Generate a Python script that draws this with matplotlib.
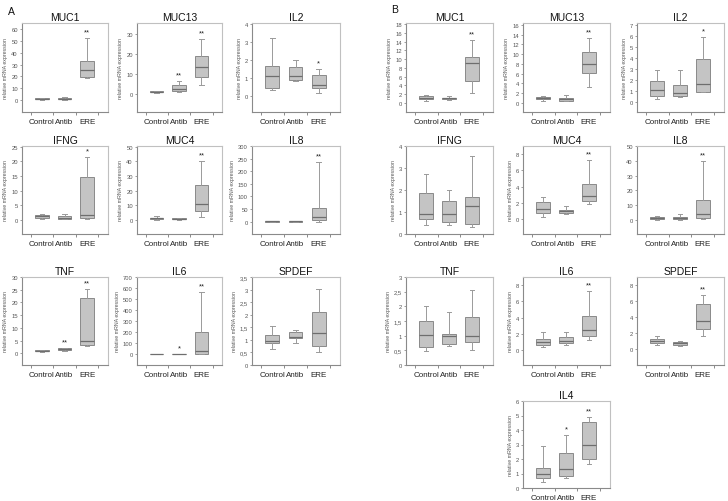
import numpy as np
import matplotlib
matplotlib.use("Agg")
import matplotlib.pyplot as plt
from matplotlib.ticker import FixedLocator

plt.rcParams['font.family'] = ['Liberation Sans', 'DejaVu Sans']

groups = ["Control", "Antib", "ERE"]

# box stats per group: (whislo, q1, med, q3, whishi)
A_MUC1 = [(0.3, 0.6, 1.0, 1.5, 2.0), (0.5, 0.8, 1.2, 1.8, 2.5), (18.7, 19.3, 25.7, 32.7, 52.2)]
A_MUC13 = [(0.5, 0.8, 1.1, 1.4, 1.7), (1.0, 1.7, 2.7, 4.4, 6.7), (4.5, 8.5, 13.6, 19.1, 27.3)]
A_IL2 = [(0.35, 0.46, 1.12, 1.68, 3.23), (0.83, 0.88, 1.12, 1.62, 2.0), (0.18, 0.46, 0.63, 1.18, 1.53)]
A_IFNG = [(0.4, 0.8, 1.2, 1.6, 2.1), (0.2, 0.4, 0.8, 1.5, 1.9), (0.3, 0.7, 1.8, 14.5, 21.6)]
A_MUC4 = [(0.3, 0.8, 1.2, 1.6, 2.5), (0.3, 0.6, 0.9, 1.3, 1.7), (1.8, 5.9, 10.7, 23.9, 40.5)]
A_IL8 = [(0.2, 0.5, 1.0, 2.0, 3.0), (0.2, 0.3, 0.6, 1.0, 1.2), (0.5, 5.0, 17.0, 53.0, 237.0)]
A_TNF = [(0.5, 0.8, 1.0, 1.2, 1.4), (1.1, 1.3, 1.6, 1.9, 2.0), (2.8, 3.4, 5.0, 21.8, 25.4)]
A_IL6 = [(0.5, 0.8, 1.0, 1.2, 1.5), (0.5, 0.8, 1.0, 1.2, 1.5), (1.0, 3.0, 30.0, 202.0, 565.0)]
A_SPDEF = [(0.63, 0.88, 0.97, 1.19, 1.55), (0.87, 1.07, 1.11, 1.31, 1.41), (0.51, 0.77, 1.28, 2.11, 3.04)]

B_MUC1 = [(0.5, 0.8, 1.1, 1.5, 1.8), (0.6, 0.8, 1.0, 1.2, 1.5), (2.3, 4.96, 9.08, 10.45, 14.5)]
B_MUC13 = [(0.5, 0.8, 1.1, 1.3, 1.5), (0.4, 0.5, 0.8, 1.1, 1.7), (3.3, 6.1, 8.0, 10.5, 13.4)]
B_IL2 = [(0.3, 0.57, 1.14, 1.95, 2.93), (0.48, 0.54, 0.84, 1.56, 2.93), (0.9, 0.93, 1.65, 3.89, 5.9)]
B_IFNG = [(0.4, 0.69, 0.89, 1.88, 2.71), (0.4, 0.54, 0.93, 1.52, 2.02), (0.31, 0.46, 1.29, 1.7, 3.54)]
B_MUC4 = [(0.2, 0.78, 1.19, 2.05, 2.67), (0.6, 0.7, 0.94, 1.11, 1.64), (1.8, 2.26, 2.79, 4.3, 7.22)]
B_IL8 = [(0.3, 0.8, 1.2, 2.0, 3.0), (0.3, 0.5, 1.2, 2.3, 3.8), (0.7, 1.1, 4.3, 13.5, 40.0)]
B_TNF = [(0.47, 0.61, 1.01, 1.5, 2.0), (0.65, 0.71, 0.99, 1.06, 1.8), (0.52, 0.78, 0.99, 1.62, 2.56)]
B_IL6 = [(0.37, 0.62, 0.99, 1.31, 2.18), (0.62, 0.82, 1.15, 1.56, 2.26), (1.23, 1.68, 2.5, 4.19, 7.27)]
B_SPDEF = [(0.54, 0.75, 1.03, 1.24, 1.66), (0.41, 0.58, 0.75, 0.91, 0.99), (1.66, 2.53, 3.52, 5.59, 6.75)]
B_IL4 = [(0.41, 0.68, 0.96, 1.39, 2.92), (0.68, 0.8, 1.28, 2.42, 3.65), (1.64, 2.01, 2.95, 4.52, 4.93)]

# significance marks per group
A_sig = {"MUC1": ["", "", "**"], "MUC13": ["", "**", "**"], "IL2": ["", "", "*"],
         "IFNG": ["", "", "*"], "MUC4": ["", "", "**"], "IL8": ["", "", "**"],
         "TNF": ["", "**", "**"], "IL6": ["", "*", "**"], "SPDEF": ["", "", ""]}
B_sig = {"MUC1": ["", "", "**"], "MUC13": ["", "", "**"], "IL2": ["", "", "*"],
         "IFNG": ["", "", ""], "MUC4": ["", "", "**"], "IL8": ["", "", "**"],
         "TNF": ["", "", ""], "IL6": ["", "", "**"], "SPDEF": ["", "", "**"],
         "IL4": ["", "*", "**"]}

# y tick values
A_ticks = {"MUC1": np.arange(0, 61, 10), "MUC13": [0, 10, 20, 30], "IL2": [0, 1, 2, 3, 4],
           "IFNG": np.arange(0, 26, 5), "MUC4": np.arange(0, 51, 10), "IL8": np.arange(0, 301, 50),
           "TNF": np.arange(0, 31, 5), "IL6": np.arange(0, 701, 100), "SPDEF": np.arange(0, 3.6, 0.5)}
B_ticks = {"MUC1": np.arange(0, 19, 2), "MUC13": np.arange(0, 17, 2), "IL2": np.arange(0, 8),
           "IFNG": [0, 1, 2, 3, 4], "MUC4": [0, 2, 4, 6, 8], "IL8": np.arange(0, 51, 10),
           "TNF": np.arange(0, 3.1, 0.5), "IL6": [0, 2, 4, 6, 8], "SPDEF": [0, 2, 4, 6, 8],
           "IL4": np.arange(0, 7)}

W, H = 728, 502
fig = plt.figure(figsize=(W / 100, H / 100), dpi=100)

cols_a = [(22, 108), (137, 222), (252, 340)]
cols_b = [(406, 493), (523, 610), (637, 724)]
rows = [(24, 113), (147, 235), (278, 366), (402, 489)]

# (panel, name, stats, col, row, ylim, show ylabel)
layout = [
    ("A", "MUC1", A_MUC1, 0, 0, (-10, 65), True),
    ("A", "MUC13", A_MUC13, 1, 0, (-9, 35.5), True),
    ("A", "IL2", A_IL2, 2, 0, (-0.87, 4.07), True),
    ("A", "IFNG", A_IFNG, 0, 1, (-4.8, 25.2), True),
    ("A", "MUC4", A_MUC4, 1, 1, (-9.5, 50.5), True),
    ("A", "IL8", A_IL8, 2, 1, (-49, 300), True),
    ("A", "TNF", A_TNF, 0, 2, (-4.6, 30), True),
    ("A", "IL6", A_IL6, 1, 2, (-95, 700), True),
    ("A", "SPDEF", A_SPDEF, 2, 2, (0, 3.5), True),
    ("B", "MUC1", B_MUC1, 0, 0, (-2.1, 18.3), True),
    ("B", "MUC13", B_MUC13, 1, 0, (-1.85, 16.4), True),
    ("B", "IL2", B_IL2, 2, 0, (-0.87, 7.15), True),
    ("B", "IFNG", B_IFNG, 0, 1, (0, 4), True),
    ("B", "MUC4", B_MUC4, 1, 1, (-1.85, 9), True),
    ("B", "IL8", B_IL8, 2, 1, (-9.4, 50), False),
    ("B", "TNF", B_TNF, 0, 2, (0, 3), True),
    ("B", "IL6", B_IL6, 1, 2, (-1.85, 9), True),
    ("B", "SPDEF", B_SPDEF, 2, 2, (-1.95, 9), False),
    ("B", "IL4", B_IL4, 1, 3, (0, 6), True),
]


def fmt(v):
    if float(v).is_integer():
        return str(int(v))
    return f"{v:.1f}".replace(".", ",")


for panel, name, stats, c, r, ylim, show_ylab in layout:
    x0, x1 = (cols_a if panel == "A" else cols_b)[c]
    y0, y1 = rows[r]
    ax = fig.add_axes([x0 / W, 1 - y1 / H, (x1 - x0) / W, (y1 - y0) / H])
    bstats = [dict(whislo=s[0], q1=s[1], med=s[2], q3=s[3], whishi=s[4], fliers=[]) for s in stats]
    ax.bxp(bstats, positions=[1, 2, 3], widths=0.6, patch_artist=True, showfliers=False,
           boxprops=dict(facecolor="#c4c4c4", edgecolor="#8a8a8a", linewidth=0.7),
           medianprops=dict(color="#6e6e6e", linewidth=0.9),
           whiskerprops=dict(color="#9a9a9a", linewidth=0.7),
           capprops=dict(color="#9a9a9a", linewidth=0.7), capwidths=0.2)
    ax.set_xlim(0.12, 3.92)
    ax.set_ylim(*ylim)
    sig = (A_sig if panel == "A" else B_sig)[name]
    span = ylim[1] - ylim[0]
    for i, s in enumerate(sig):
        if s:
            ax.text(i + 1, stats[i][4] + span * 0.03, s, ha="center", va="bottom",
                    fontsize=5.5, color="#222222")
    ticks = (A_ticks if panel == "A" else B_ticks)[name]
    ax.yaxis.set_major_locator(FixedLocator(list(ticks)))
    ax.set_yticklabels([fmt(t) for t in ticks])
    ax.set_xticks([1, 2, 3])
    ax.set_xticklabels(groups)
    ax.xaxis.set_minor_locator(FixedLocator([0.5, 1.5, 2.5, 3.5]))
    ax.tick_params(axis="x", which="major", length=0, labelsize=5.8, labelcolor="#222222", pad=4)
    ax.tick_params(axis="x", which="minor", length=2, color="#777777", width=0.6)
    ax.tick_params(axis="y", length=1.5, width=0.5, color="#777777", labelsize=4.2,
                   labelcolor="#555555", pad=1.5)
    for side in ("left", "bottom"):
        ax.spines[side].set_color("#8a8a8a")
        ax.spines[side].set_linewidth(0.8)
    for side in ("top", "right"):
        ax.spines[side].set_color("#c0c0c0")
        ax.spines[side].set_linewidth(0.8)
    if show_ylab:
        ax.set_ylabel("relative mRNA expression", fontsize=3.8, color="#555555", labelpad=2)
    ax.set_title(name, fontsize=7.5, color="#111111", pad=2)

fig.text(8 / W, 1 - 12 / H, "A", fontsize=7.5, va="center", color="#111111")
fig.text(391 / W, 1 - 10 / H, "B", fontsize=7.5, va="center", color="#111111")

fig.savefig("out.png", dpi=100, facecolor="white")
